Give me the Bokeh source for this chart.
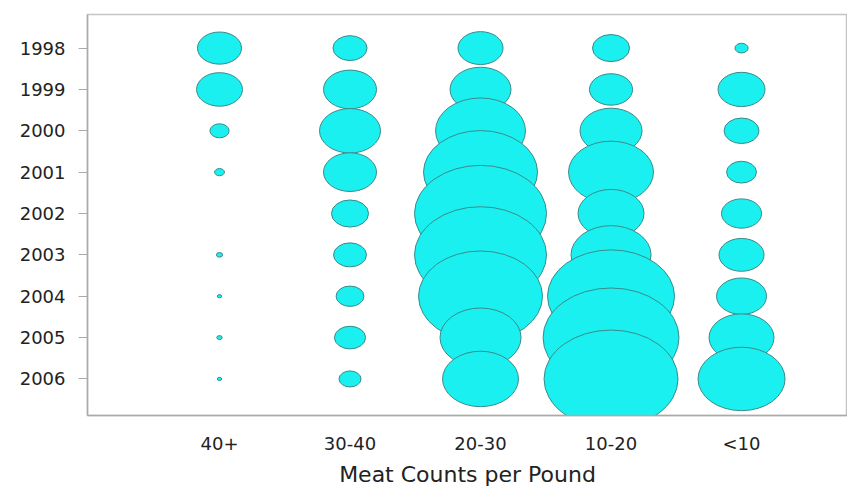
from bokeh.plotting import figure
from bokeh.models import ColumnDataSource, Range1d, FixedTicker
from bokeh.embed import file_html
from bokeh.resources import INLINE
import math

# ---- data ----
categories = ["40+", "30-40", "20-30", "10-20", "<10"]
years = [1998, 1999, 2000, 2001, 2002, 2003, 2004, 2005, 2006]
v_40_plus = [100, 109, 19, 5, 0, 2, 1, 1.5, 1]
v_30_40 = [60, 145, 192, 145, 71, 56, 40, 50, 25]
v_20_30 = [105, 192, 418, 671, 900, 900, 794, 339, 298]
v_10_20 = [71, 96, 199, 373, 225, 331, 833, 955, 927]
v_lt_10 = [9, 114, 63, 46, 83, 105, 129, 218, 391]
series = [v_40_plus, v_30_40, v_20_30, v_10_20, v_lt_10]

# ---- style ----
PX_PER_SQRT = 4.4      # bubble width (px) per sqrt(value)
ASPECT = 0.73          # bubble height / width
FILL = "#1BF0F0"
EDGE = "#3A8A8A"
FONT = "DejaVu Sans"

xs, ys, ws, hs = [], [], [], []
for yi, yr in enumerate(years):
    for ci, vals in enumerate(series):
        v = vals[yi]
        if v <= 0:
            continue
        w = PX_PER_SQRT * math.sqrt(v)
        xs.append(ci + 1)
        ys.append(yr)
        ws.append(w)
        hs.append(w * ASPECT)

src = ColumnDataSource(dict(x=xs, y=ys, w=ws, h=hs))

p = figure(width=847, height=489, output_backend="svg", toolbar_location=None,
           x_range=Range1d(-0.0115, 5.812), y_range=Range1d(2006.884, 1997.188),
           min_border_left=87, min_border_top=14, min_border_bottom=69, min_border_right=0)

p.ellipse(x="x", y="y", width="w", height="h", width_units="screen", height_units="screen",
          source=src, fill_color=FILL, line_color=EDGE, line_width=1)

p.xgrid.visible = False
p.ygrid.visible = False
p.background_fill_color = "white"
p.border_fill_color = "white"
p.outline_line_color = "#C4C4C4"
p.outline_line_width = 1.5

# x axis
p.xaxis.ticker = FixedTicker(ticks=list(range(1, len(categories) + 1)))
p.xaxis.major_label_overrides = {i + 1: c for i, c in enumerate(categories)}
p.xaxis.major_tick_out = 0
p.xaxis.major_tick_in = 0
p.xaxis.minor_tick_out = 0
p.xaxis.minor_tick_in = 0
p.xaxis.major_label_standoff = 17
p.xaxis.axis_label = "Meat Counts per Pound"
p.xaxis.axis_label_standoff = 5
p.xaxis.axis_label_text_font = FONT
p.xaxis.axis_label_text_font_size = "22px"
p.xaxis.axis_label_text_font_style = "normal"
p.xaxis.axis_label_text_color = "#222222"

# y axis
p.yaxis.ticker = FixedTicker(ticks=years)
p.yaxis.minor_tick_out = 0
p.yaxis.minor_tick_in = 0
p.yaxis.major_tick_in = 0
p.yaxis.major_tick_out = 9
p.yaxis.major_label_standoff = 13

for ax in (p.xaxis, p.yaxis):
    ax.axis_line_color = "#AAAAAA"
    ax.axis_line_width = 1.5
    ax.major_tick_line_color = "#AAAAAA"
    ax.major_label_text_font = FONT
    ax.major_label_text_font_size = "18px"
    ax.major_label_text_color = "#222222"

open("out.html", "w").write(file_html(p, INLINE))
